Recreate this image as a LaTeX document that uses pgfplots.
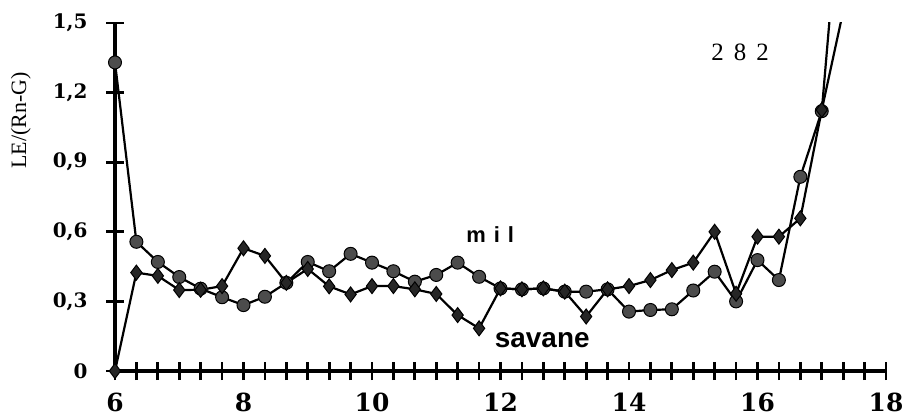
\documentclass[border=0pt]{standalone}
\usepackage{pgfplots}
\pgfplotsset{compat=1.18}
\usepackage{fontspec}
\setmainfont{DejaVu Serif}
\newfontfamily\lserif{Liberation Serif}
\newfontfamily\lsans{Liberation Sans}
\pgfplotstableread{
x y
6.000 1.33
6.333 0.557
6.667 0.47
7.000 0.405
7.333 0.355
7.667 0.318
8.000 0.284
8.333 0.32
8.667 0.38
9.000 0.47
9.333 0.43
9.667 0.505
10.000 0.467
10.333 0.43
10.667 0.385
11.000 0.414
11.333 0.467
11.667 0.406
12.000 0.356
12.333 0.352
12.667 0.356
13.000 0.342
13.333 0.342
13.667 0.352
14.000 0.256
14.333 0.263
14.667 0.266
15.000 0.347
15.333 0.428
15.667 0.30
16.000 0.478
16.333 0.392
16.667 0.837
17.000 1.12
17.333 2.2
}\mil
\pgfplotstableread{
x y
6.000 0
6.333 0.424
6.667 0.41
7.000 0.349
7.333 0.35
7.667 0.366
8.000 0.529
8.333 0.496
8.667 0.38
9.000 0.44
9.333 0.365
9.667 0.33
10.000 0.366
10.333 0.366
10.667 0.352
11.000 0.332
11.333 0.241
11.667 0.184
12.000 0.356
12.333 0.352
12.667 0.356
13.000 0.342
13.333 0.235
13.667 0.352
14.000 0.366
14.333 0.392
14.667 0.435
15.000 0.467
15.333 0.60
15.667 0.333
16.000 0.579
16.333 0.579
16.667 0.658
17.000 1.125
17.333 1.55
}\savane
\begin{document}
\begin{tikzpicture}
\useasboundingbox (-115bp,-48bp) rectangle (800bp,371bp);
\begin{axis}[
  scale only axis, width=771bp, height=348bp,
  xmin=6, xmax=18, ymin=0, ymax=1.5,
  axis lines=left,
  axis line style={line width=3.5bp, -},
  xtick={6,8,...,18}, minor x tick num=5,
  ytick={0,0.3,0.6,0.9,1.2,1.5},
  tick align=center,
  major tick length=18bp, minor tick length=18bp,
  every tick/.style={black, line width=2.8bp},
  /pgf/number format/use comma,
  /pgf/number format/assume math mode=true,
  yticklabel style={font=\fontsize{20}{20}\selectfont\bfseries, xshift=-15bp,
    /pgf/number format/fixed, /pgf/number format/precision=1},
  xticklabel style={font=\fontsize{25}{25}\selectfont\bfseries, yshift=-9bp},
  ylabel={LE/(Rn-G)},
  ylabel style={font=\lserif\fontsize{22}{22}\selectfont, at={(axis description cs:-0.122,0.72)}, anchor=center},
]
\addplot[black, line width=2.2bp, mark=*, mark indices={1,...,34},
  mark options={fill=black!70, draw=black, line width=1bp, mark size=6.5bp}] table[x=x,y=y] {\mil};
\addplot[black, line width=2.2bp, mark=diamond*, mark indices={1,...,34},
  mark options={fill=black!85, draw=black, line width=1bp, mark size=7.5bp}] table[x=x,y=y] {\savane};
\node[font=\lsans\bfseries\fontsize{22}{22}\selectfont] at (axis cs:11.84,0.586) {m\hspace{8bp}i\hspace{8bp}l};
\node[font=\lsans\bfseries\fontsize{28}{28}\selectfont] at (axis cs:12.65,0.134) {savane};
\node[font=\lserif\fontsize{25}{25}\selectfont] at (axis cs:15.73,1.375) {2\hspace{10bp}8\hspace{10bp}2};
\end{axis}
\end{tikzpicture}
\end{document}
